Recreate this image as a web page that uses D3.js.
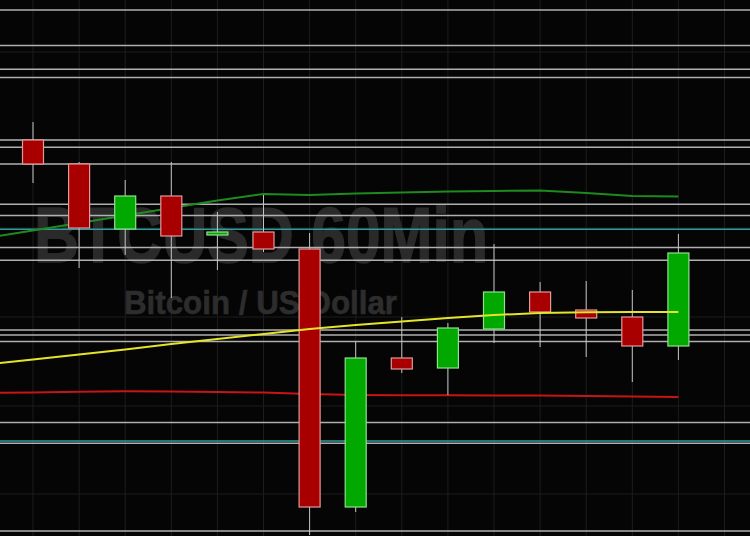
<!DOCTYPE html>
<html>
<head>
<meta charset="utf-8">
<script src="https://cdn.jsdelivr.net/npm/d3@7"></script>
<style>
html,body{margin:0;padding:0;background:#050505;overflow:hidden;}
svg{display:block;}
</style>
</head>
<body>
<svg id="chart" width="750" height="536"></svg>
<script>
// ---- data ----
const hours = ["01:00","02:00","03:00","04:00","05:00","06:00","07:00","08:00","09:00","10:00","11:00","12:00","13:00","14:00","15:00"];
const opens  = [9270, 9258, 9225.5, 9242, 9222.5, 9224, 9215.5, 9086.5, 9161, 9156, 9175.5, 9194, 9185, 9181.5, 9167];
const highs  = [9279, 9259, 9250, 9259, 9234, 9242.5, 9223.5, 9169, 9181.5, 9178.5, 9218, 9199, 9199.5, 9195, 9223];
const lows   = [9248.5, 9206, 9212.5, 9191, 9205, 9214, 9072.5, 9084, 9153.5, 9142.5, 9168.5, 9166.5, 9161.5, 9149, 9160];
const closes = [9258, 9226, 9242, 9222, 9224, 9215.5, 9086.5, 9161, 9155.5, 9176, 9194, 9184, 9181, 9167, 9213.5];

// moving averages: first value belongs to the hour before the first visible candle
const maSlow   = [9221, 9224.8, 9228.5, 9232.3, 9236, 9239.8, 9243, 9242.5, 9243.3, 9243.8, 9244.3, 9244.5, 9244.8, 9243.5, 9242, 9241.8];
const maMid    = [9157.8, 9160.3, 9162.8, 9165.3, 9168, 9170.5, 9173, 9175.5, 9177.5, 9179.3, 9181, 9182.5, 9183.5, 9183.9, 9184, 9184];
const maLong   = [9143.5, 9143.8, 9144.1, 9144.4, 9144.3, 9144, 9143.7, 9143, 9142.5, 9142.4, 9142.4, 9142.3, 9142.2, 9142, 9141.8, 9141.5];

const levelLines = [9335, 9317.2, 9305.4, 9301.2, 9270, 9266.4, 9258, 9237.9, 9232.2, 9216.2, 9209.9, 9175, 9172.5, 9169.2, 9128.7, 9118.4, 9074.5];
const cyanLines  = [9225.4, 9119.5];
const priceGrid  = [9314, 9270, 9226, 9181.5, 9137, 9093];

const title = "BTCUSD 60Min";
const subtitle = "Bitcoin / US Dollar";

// ---- drawing ----
const W = 750, H = 536;
const svg = d3.select("#chart");
svg.append("rect").attr("width", W).attr("height", H).attr("fill", "#050505");

const x = d3.scaleLinear().domain([0, 15]).range([33, 33 + 46.1 * 15]);
const y = d3.scaleLinear().domain([9340, 9072]).range([0, 536]);

const g = svg.append("g");

// dim grid
g.append("g").selectAll("line").data(d3.range(0, 16)).join("line")
  .attr("x1", d => x(d)).attr("x2", d => x(d)).attr("y1", 0).attr("y2", H)
  .attr("stroke", "#1d1d1d").attr("stroke-width", 1);
g.append("g").selectAll("line").data(priceGrid).join("line")
  .attr("x1", 0).attr("x2", W).attr("y1", d => y(d)).attr("y2", d => y(d))
  .attr("stroke", "#1d1d1d").attr("stroke-width", 1);

// watermark
g.append("text").text(title)
  .attr("x", 34).attr("y", 262)
  .attr("font-family", "Liberation Sans, Arial, sans-serif")
  .attr("font-weight", "bold").attr("font-size", 78)
  .attr("textLength", 454).attr("lengthAdjust", "spacingAndGlyphs")
  .attr("fill", "#2a2a2a").attr("stroke", "#2a2a2a").attr("stroke-width", 1.5);
g.append("text").text(subtitle)
  .attr("x", 124).attr("y", 314)
  .attr("font-family", "Liberation Sans, Arial, sans-serif")
  .attr("font-weight", "bold").attr("font-size", 33)
  .attr("textLength", 273).attr("lengthAdjust", "spacingAndGlyphs")
  .attr("fill", "#2d2d2d").attr("stroke", "#2d2d2d").attr("stroke-width", 0.6);

// level lines
g.append("g").selectAll("line").data(levelLines).join("line")
  .attr("x1", 0).attr("x2", W).attr("y1", d => y(d)).attr("y2", d => y(d))
  .attr("stroke", "#b0b0b0").attr("stroke-width", 1.5);
g.append("g").selectAll("line").data(cyanLines).join("line")
  .attr("x1", 0).attr("x2", W).attr("y1", d => y(d)).attr("y2", d => y(d))
  .attr("stroke", "#2f9c9e").attr("stroke-width", 1.6);

// moving averages
const maLine = d3.line().x((d, i) => x(i - 1)).y(d => y(d));
g.append("path").datum(maSlow).attr("d", maLine).attr("fill", "none")
  .attr("stroke", "#1f8a1f").attr("stroke-width", 2);
g.append("path").datum(maLong).attr("d", maLine).attr("fill", "none")
  .attr("stroke", "#c81414").attr("stroke-width", 2);

// candles
const candles = hours.map((h, i) => ({h, i, o: opens[i], hi: highs[i], lo: lows[i], c: closes[i]}));
const cg = g.append("g").selectAll("g").data(candles).join("g");
cg.append("line")
  .attr("x1", d => x(d.i)).attr("x2", d => x(d.i))
  .attr("y1", d => y(d.hi)).attr("y2", d => y(d.lo))
  .attr("stroke", "#c4c4c4").attr("stroke-width", 1);
const bw = 21;
cg.append("rect")
  .attr("x", d => x(d.i) - bw / 2)
  .attr("width", bw)
  .attr("y", d => y(Math.max(d.o, d.c)))
  .attr("height", d => Math.max(2, Math.abs(y(d.o) - y(d.c))))
  .attr("fill", d => d.c >= d.o ? "#00a800" : "#a80000")
  .attr("stroke", d => d.c >= d.o ? "#8fe08f" : "#e09a9a")
  .attr("stroke-width", 1.2);

// mid MA on top
g.append("path").datum(maMid).attr("d", maLine).attr("fill", "none")
  .attr("stroke", "#e4e42a").attr("stroke-width", 2);
</script>
</body>
</html>
